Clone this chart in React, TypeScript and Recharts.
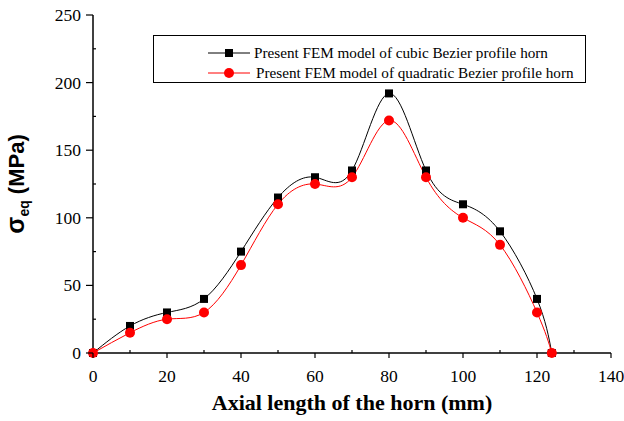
import React from "react";
import { Line, LineChart, XAxis, YAxis } from "recharts";

// axial positions (mm)
const positions = [0, 10, 20, 30, 40, 50, 60, 70, 80, 90, 100, 110, 120, 124];
// equivalent stress (MPa)
const cubicStress = [0, 20, 30, 40, 75, 115, 130, 135, 192, 135, 110, 90, 40, 0];
const quadraticStress = [0, 15, 25, 30, 65, 110, 125, 130, 172, 130, 100, 80, 30, 0];

const xTicks = [0, 10, 20, 30, 40, 50, 60, 70, 80, 90, 100, 110, 120, 130, 140];
const yTicks = [0, 25, 50, 75, 100, 125, 150, 175, 200, 225, 250];

const cubicLabel = "Present FEM model of cubic Bezier profile horn";
const quadraticLabel = "Present FEM model of quadratic Bezier profile horn";

const data = positions.map((x, i) => ({
  x,
  cubic: cubicStress[i],
  quadratic: quadraticStress[i],
}));

const serif = "'Liberation Serif', 'Times New Roman', serif";
const sans = "'Liberation Sans', Arial, sans-serif";

const BottomTick = ({ x, y, payload }: any) => {
  const major = payload.value % 20 === 0;
  return (
    <g>
      <line x1={x} x2={x} y1={y} y2={major ? y + 5 : y - 3} stroke="#000" strokeWidth={1.2} />
      {major && (
        <text x={x} y={y + 29} textAnchor="middle" fontFamily={serif} fontSize={17.5} fill="#000">
          {payload.value}
        </text>
      )}
    </g>
  );
};

const LeftTick = ({ x, y, payload }: any) => {
  const major = payload.value % 50 === 0;
  return (
    <g>
      <line x1={x} x2={major ? x - 7 : x + 3} y1={y} y2={y} stroke="#000" strokeWidth={1.2} />
      {major && (
        <text x={x - 12} y={y + 6} textAnchor="end" fontFamily={serif} fontSize={17.5} fill="#000">
          {payload.value}
        </text>
      )}
    </g>
  );
};

const TopTick = ({ x, y }: any) => (
  <line x1={x} x2={x} y1={y} y2={y + 3} stroke="#000" strokeWidth={1.2} />
);

const RightTick = ({ x, y }: any) => (
  <line x1={x - 3} x2={x} y1={y} y2={y} stroke="#000" strokeWidth={1.2} />
);

const Square = (p: any) => (
  <rect key={`sq-${p.index}`} x={p.cx - 4} y={p.cy - 4} width={8} height={8} fill="#000" />
);

const XLabel = ({ viewBox }: any) => (
  <text
    x={viewBox.x + viewBox.width / 2}
    y={viewBox.y + 57}
    textAnchor="middle"
    fontFamily={serif}
    fontWeight="bold"
    fontSize={22}
    fill="#000"
  >
    Axial length of the horn (mm)
  </text>
);

const YLabel = ({ viewBox }: any) => {
  const cx = 24;
  const cy = viewBox.y + viewBox.height / 2;
  return (
    <text
      x={cx}
      y={cy}
      transform={`rotate(-90 ${cx} ${cy})`}
      textAnchor="middle"
      fontFamily={sans}
      fontWeight="bold"
      fontSize={22}
      fill="#000"
    >
      <tspan fontSize={25}>σ</tspan>
      <tspan fontSize={14} dy={5}>eq</tspan>
      <tspan dy={-5}> (MPa)</tspan>
    </text>
  );
};

const LegendBox = () => (
  <div
    style={{
      position: "absolute",
      left: 153,
      top: 35,
      width: 431,
      height: 46,
      border: "1px solid #000",
      background: "#fff",
      fontFamily: serif,
      fontSize: 15.2,
      color: "#000",
    }}
  >
    <svg width={60} height={46} style={{ position: "absolute", left: 52, top: 0 }}>
      <line x1={2} x2={44} y1={17} y2={17} stroke="#000" strokeWidth={1} />
      <rect x={19} y={13} width={8} height={8} fill="#000" />
      <line x1={2} x2={44} y1={37} y2={37} stroke="red" strokeWidth={1} />
      <circle cx={23} cy={37} r={5} fill="red" />
    </svg>
    <div style={{ position: "absolute", left: 100, top: 8, whiteSpace: "nowrap", lineHeight: "18px" }}>
      {cubicLabel}
    </div>
    <div style={{ position: "absolute", left: 102, top: 28, whiteSpace: "nowrap", lineHeight: "18px" }}>
      {quadraticLabel}
    </div>
  </div>
);

export default function App() {
  return (
    <div style={{ position: "absolute", left: 0, top: 0, width: 624, height: 421, background: "#fff" }}>
      <LineChart width={624} height={421} data={data} margin={{ top: 15, right: 13, left: 0, bottom: 0 }}>
        <XAxis
          xAxisId="b"
          dataKey="x"
          type="number"
          domain={[0, 140]}
          ticks={xTicks}
          interval={0}
          height={68}
          tickSize={0}
          tickMargin={0}
          tickLine={false}
          tick={<BottomTick />}
          stroke="#000"
          strokeWidth={1.5}
          label={<XLabel />}
        />
        <XAxis
          xAxisId="t"
          orientation="top"
          dataKey="x"
          type="number"
          domain={[0, 140]}
          ticks={xTicks}
          interval={0}
          height={0}
          mirror
          tickSize={0}
          tickMargin={0}
          tickLine={false}
          tick={<TopTick />}
          stroke="#000"
          strokeWidth={1.5}
        />
        <YAxis
          yAxisId="l"
          type="number"
          domain={[0, 250]}
          ticks={yTicks}
          interval={0}
          width={93}
          tickSize={0}
          tickMargin={0}
          tickLine={false}
          tick={<LeftTick />}
          stroke="#000"
          strokeWidth={1.5}
          label={<YLabel />}
        />
        <YAxis
          yAxisId="r"
          orientation="right"
          type="number"
          domain={[0, 250]}
          ticks={yTicks}
          interval={0}
          width={0}
          mirror
          tickSize={0}
          tickMargin={0}
          tickLine={false}
          tick={<RightTick />}
          stroke="#000"
          strokeWidth={1.5}
        />
        <Line
          xAxisId="b"
          yAxisId="l"
          type="natural"
          dataKey="cubic"
          stroke="#000"
          strokeWidth={1}
          dot={Square}
          isAnimationActive={false}
        />
        <Line
          xAxisId="b"
          yAxisId="l"
          type="natural"
          dataKey="quadratic"
          stroke="red"
          strokeWidth={1}
          dot={{ r: 5, fill: "red", stroke: "red", strokeWidth: 0 }}
          isAnimationActive={false}
        />
      </LineChart>
      <LegendBox />
    </div>
  );
}
